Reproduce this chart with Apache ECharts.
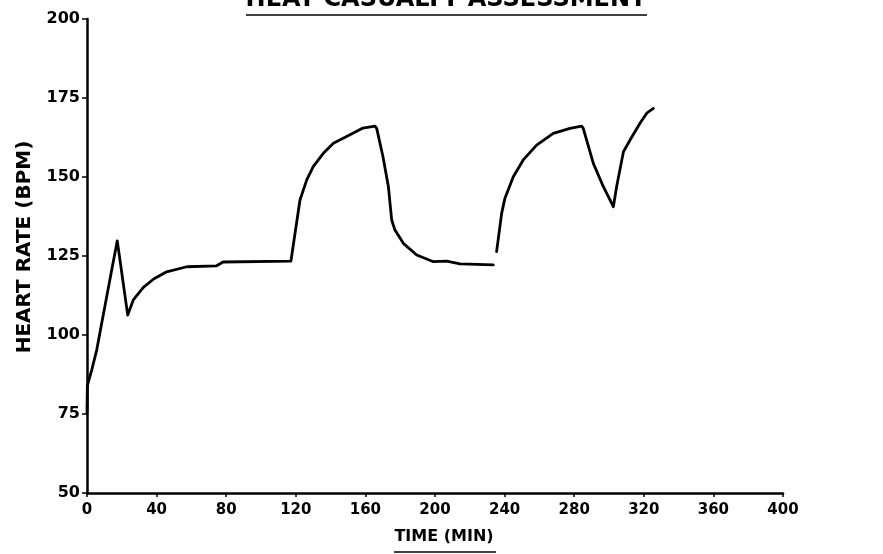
<!DOCTYPE html>
<html>
<head>
<meta charset="utf-8">
<script src="https://cdn.jsdelivr.net/npm/echarts@6/dist/echarts.min.js"></script>
<style>html,body{margin:0;padding:0;background:#fff;}#c{width:883px;height:554px;}</style>
</head>
<body>
<div id="c"></div>
<script>
// Data
const timeMin = [0, 0.2, 2.7, 5.6, 14.2, 17.4, 23.4, 26.6, 32.4, 38.5, 45.8, 57.3, 74.5, 78.2, 117.2,
  122.4, 126.3, 130.0, 135.8, 141.6, 149.2, 158.6, 165.5, 166.5, 170.1, 173.2, 175.1, 177.0, 181.8, 189.5, 199.1, 206.7, 214.4, 233.5,
  234.5,
  235.4, 238.3, 240.2, 245.0, 250.7, 258.4, 268.0, 277.6, 284.3, 285.2, 291.0, 296.7, 302.5, 304.4, 308.3, 312.1, 317.8, 321.7, 325.5];
const heartRate = [75.3, 84.0, 88.9, 95.3, 120.6, 129.8, 106.3, 111.1, 115.1, 117.8, 120.0, 121.6, 121.9, 123.1, 123.4,
  142.7, 149.1, 153.3, 157.5, 160.7, 162.8, 165.5, 166.1, 165.4, 156.4, 147.0, 136.4, 133.2, 129.0, 125.3, 123.2, 123.4, 122.5, 122.2,
  null,
  126.4, 138.5, 143.3, 150.1, 155.4, 160.1, 163.8, 165.4, 166.1, 165.4, 154.3, 147.0, 140.6, 147.0, 158.0, 161.7, 167.0, 170.2, 171.7];
const xTickLabels = ['0', '40', '80', '120', '160', '200', '240', '280', '320', '360', '400'];
const yTickLabels = ['50', '75', '100', '125', '150', '175', '200'];
const titleText = 'HEAT CASUALTY ASSESSMENT';
const xName = 'TIME (MIN)';
const yName = 'HEART RATE (BPM)';

const points = timeMin.map((t, i) => [t, heartRate[i] === null ? '-' : heartRate[i]]);
const font = '"DejaVu Sans", sans-serif';

const chart = echarts.init(document.getElementById('c'), null, {renderer: 'canvas'});
chart.setOption({
  animation: false,
  backgroundColor: '#ffffff',
  grid: {left: 87, right: 100, top: 19, bottom: 61, containLabel: false},
  xAxis: {
    type: 'value', min: 0, max: 400, interval: 40,
    axisLine: {show: true, lineStyle: {color: '#000', width: 2.5}},
    axisTick: {show: true, inside: false, length: 4, lineStyle: {color: '#000', width: 1.5}},
    splitLine: {show: false},
    axisLabel: {
      color: '#000', fontFamily: font, fontWeight: 'bold', fontSize: 15, margin: 10,
      formatter: v => xTickLabels[Math.round(v / 40)]
    }
  },
  yAxis: {
    type: 'value', min: 50, max: 200, interval: 25,
    axisLine: {show: true, lineStyle: {color: '#000', width: 2.5}},
    axisTick: {show: true, inside: false, length: 5, lineStyle: {color: '#000', width: 1.5}},
    splitLine: {show: false},
    axisLabel: {
      color: '#000', fontFamily: font, fontWeight: 'bold', fontSize: 16, margin: 7,
      formatter: v => yTickLabels[Math.round((v - 50) / 25)]
    }
  },
  series: [{
    type: 'line', data: points, showSymbol: false, symbol: 'none',
    connectNulls: false, smooth: false,
    lineStyle: {color: '#000', width: 2.8, join: 'round', cap: 'round'}
  }],
  graphic: [
    {type: 'text', x: 446, y: 12, style: {text: titleText, font: 'bold 24px ' + font, fill: '#000', textAlign: 'center', textVerticalAlign: 'bottom'}},
    {type: 'line', shape: {x1: 246, y1: 15, x2: 647, y2: 15}, style: {stroke: '#000', lineWidth: 1.5}},
    {type: 'text', x: 444, y: 537, style: {text: xName, font: 'bold 16px ' + font, fill: '#000', textAlign: 'center', textVerticalAlign: 'middle'}},
    {type: 'line', shape: {x1: 394, y1: 552, x2: 496, y2: 552}, style: {stroke: '#000', lineWidth: 1.5}},
    {type: 'text', x: 25, y: 247, rotation: Math.PI / 2, style: {text: yName, font: 'bold 20px ' + font, fill: '#000', textAlign: 'center', textVerticalAlign: 'middle'}}
  ]
});
</script>
</body>
</html>
